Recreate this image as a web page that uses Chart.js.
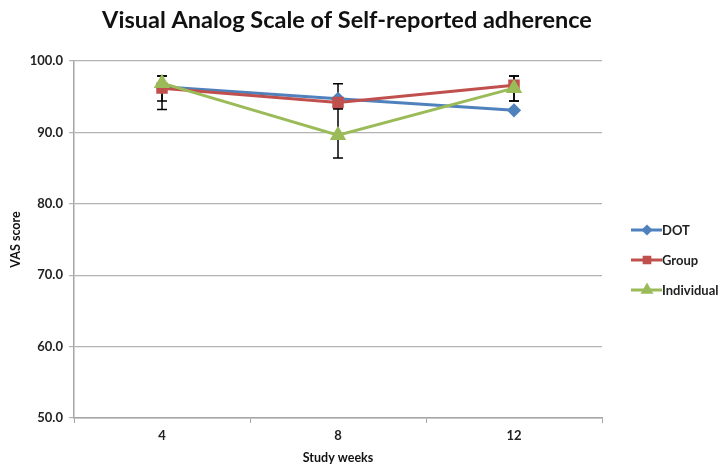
<!DOCTYPE html>
<html>
<head>
<meta charset="utf-8">
<script src="https://cdn.jsdelivr.net/npm/chart.js@4/dist/chart.umd.min.js"></script>
<style>
  html, body { margin: 0; padding: 0; background: #fff; }
  #wrap { width: 725px; height: 469px; }
</style>
</head>
<body>
<div id="wrap"><canvas id="c" width="725" height="469"></canvas></div>
<script>
// Study weeks on the x axis
const weeks = ['4', '8', '12'];

// Mean VAS scores per arm
const dotScores = [96.4, 94.7, 93.1];
const groupScores = [96.2, 94.2, 96.6];
const individualScores = [96.9, 89.6, 96.2];

// Error bar extents (lower / upper) per arm
const groupLow = [93.2, 93.3, 94.4];
const groupHigh = [97.9, 96.8, 97.9];
const individualLow = [94.4, 86.4, 94.4];
const individualHigh = [97.9, 93.3, 97.9];

// Y axis ticks
const yTicks = [50, 60, 70, 80, 90, 100];

const FONT = 'Lato, "Open Sans", sans-serif';
const BLUE = '#4F81BD', RED = '#C0504D', GREEN = '#9BBB59';

// Error bars drawn beneath the markers
const errorBars = {
  id: 'errorBars',
  beforeDatasetsDraw(chart) {
    const ctx = chart.ctx, x = chart.scales.x, y = chart.scales.y;
    const sets = [[groupLow, groupHigh], [individualLow, individualHigh]];
    ctx.save();
    ctx.strokeStyle = '#000';
    ctx.lineWidth = 1.5;
    sets.forEach(([lo, hi]) => {
      weeks.forEach((w, i) => {
        if (lo[i] == null || hi[i] == null) return;
        const px = x.getPixelForValue(i);
        const y1 = y.getPixelForValue(lo[i]);
        const y2 = y.getPixelForValue(hi[i]);
        ctx.beginPath();
        ctx.moveTo(px, y1); ctx.lineTo(px, y2);
        ctx.moveTo(px - 5, y1); ctx.lineTo(px + 5, y1);
        ctx.moveTo(px - 5, y2); ctx.lineTo(px + 5, y2);
        ctx.stroke();
      });
    });
    ctx.restore();
  }
};

// Title and right-hand legend
const decorations = {
  id: 'decorations',
  afterDraw(chart) {
    const ctx = chart.ctx;
    ctx.save();
    ctx.fillStyle = '#111';
    ctx.font = 'bold 23.5px ' + FONT;
    ctx.textAlign = 'center';
    ctx.textBaseline = 'middle';
    ctx.fillText('Visual Analog Scale of Self-reported adherence', 347, 20);

    const items = [
      { label: 'DOT', color: BLUE, style: 'rectRot', r: 3.5 },
      { label: 'Group', color: RED, style: 'rect', r: 4 },
      { label: 'Individual', color: GREEN, style: 'triangle', r: 4.5 }
    ];
    items.forEach((it, i) => {
      const yy = 230 + i * 30;
      ctx.strokeStyle = it.color;
      ctx.lineWidth = 3;
      ctx.beginPath();
      ctx.moveTo(631, yy); ctx.lineTo(662, yy);
      ctx.stroke();
      ctx.fillStyle = it.color;
      Chart.helpers.drawPoint(ctx, { pointStyle: it.style, radius: it.r, borderWidth: 1 }, 647, yy);
      ctx.fill();
      ctx.fillStyle = '#222';
      ctx.font = 'bold 13px ' + FONT;
      ctx.textAlign = 'left';
      ctx.fillText(it.label, 662, yy + 1);
    });
    ctx.restore();
  }
};

function series(label, data, color, style, r, order) {
  return {
    label, data, order,
    borderColor: color,
    backgroundColor: color,
    pointBackgroundColor: color,
    pointBorderColor: color,
    pointStyle: style,
    pointRadius: r,
    borderWidth: 3,
    tension: 0
  };
}

new Chart(document.getElementById('c'), {
  type: 'line',
  data: {
    labels: weeks,
    datasets: [
      series('DOT', dotScores, BLUE, 'rectRot', 5, 3),
      series('Group', groupScores, RED, 'rect', 6, 2),
      series('Individual', individualScores, GREEN, 'triangle', 6.5, 1)
    ]
  },
  options: {
    responsive: false,
    animation: false,
    layout: { padding: { top: 61, right: 123, left: 4, bottom: 0 } },
    plugins: {
      legend: { display: false },
      title: { display: false },
      tooltip: { enabled: false }
    },
    scales: {
      x: {
        offset: true,
        border: { color: '#a6a6a6', width: 1.5 },
        grid: { display: true, drawOnChartArea: false, drawTicks: true, offset: true, tickLength: 5, color: '#a6a6a6' },
        ticks: { color: '#222', font: { family: FONT, size: 13, weight: 'bold' }, padding: 5 },
        title: { display: true, text: 'Study weeks', color: '#111', font: { family: FONT, size: 12.5, weight: 'bold' }, padding: { top: 6 } },
        afterFit(s) { s.height = 51; }
      },
      y: {
        min: 50, max: 100,
        afterBuildTicks(s) { s.ticks = yTicks.map(v => ({ value: v })); },
        border: { color: '#a6a6a6', width: 1.5 },
        grid: { color: '#b3b3b3', lineWidth: 1.2, tickLength: 5 },
        ticks: { color: '#222', font: { family: FONT, size: 13, weight: 'bold' }, padding: 6, callback: v => Number(v).toFixed(1) },
        title: { display: true, text: 'VAS score', color: '#111', font: { family: FONT, size: 12.5, weight: 'bold' }, padding: { bottom: 2 } },
        afterFit(s) { s.width = 70; }
      }
    }
  },
  plugins: [errorBars, decorations]
});
</script>
</body>
</html>
